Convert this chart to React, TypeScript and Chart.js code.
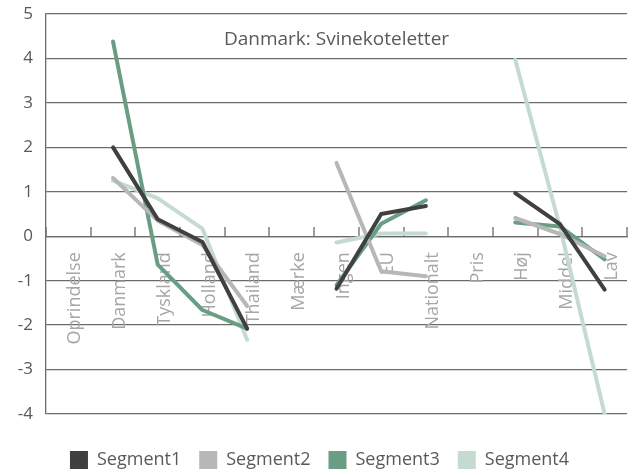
import React, { useEffect, useRef } from "react";
import { Chart, registerables } from "chart.js";

Chart.register(...registerables);

const TITLE = "Danmark: Svinekoteletter";
const categories = ["Oprindelse", "Danmark", "Tyskland", "Holland", "Thailand", "Mærke", "Ingen", "EU", "Nationalt", "Pris", "Høj", "Middel", "Lav"];
const segment1 = [null, 2.0, 0.38, -0.13, -2.08, null, -1.18, 0.5, 0.68, null, 0.97, 0.27, -1.2];
const segment2 = [null, 1.31, 0.35, -0.2, -1.57, null, 1.65, -0.79, -0.9, null, 0.41, 0.05, -0.45];
const segment3 = [null, 4.38, -0.64, -1.66, -2.08, null, -1.1, 0.28, 0.81, null, 0.31, 0.22, -0.52];
const segment4 = [null, 1.25, 0.85, 0.17, -2.33, null, -0.14, 0.06, 0.06, null, 3.97, 0.2, -4.0];
const seriesNames = ["Segment1", "Segment2", "Segment3", "Segment4"];
const seriesColors = ["#404040", "#b7b7b7", "#6a9e84", "#c5dbcf"];
const yMin = -4;
const yMax = 5;

const FONT = '"Open Sans", "DejaVu Sans", sans-serif';
const AXIS_COLOR = "#6b6b6b";

const innerTitle = {
  id: "innerTitle",
  beforeDatasetsDraw(chart: any) {
    const { ctx, chartArea } = chart;
    ctx.save();
    ctx.font = `19px ${FONT}`;
    ctx.fillStyle = "#595959";
    ctx.textAlign = "center";
    ctx.textBaseline = "middle";
    ctx.fillText(TITLE, (chartArea.left + chartArea.right) / 2, chartArea.top + 26);
    ctx.restore();
  },
};

// tick marks pointing up from the category axis, at category boundaries
const upTicks = {
  id: "upTicks",
  beforeDatasetsDraw(chart: any) {
    const { ctx } = chart;
    const xs = chart.scales.x;
    const ys = chart.scales.y;
    const y0 = Math.round(ys.getPixelForValue(0));
    ctx.save();
    ctx.strokeStyle = AXIS_COLOR;
    ctx.lineWidth = 1.3;
    ctx.beginPath();
    for (let i = 0; i <= categories.length; i++) {
      const x = Math.round(xs.getPixelForValue(i - 0.5));
      ctx.moveTo(x, y0);
      ctx.lineTo(x, y0 - 9);
    }
    ctx.stroke();
    ctx.restore();
  },
};

const noScalePadding = (s: any) => {
  s.paddingTop = 0;
  s.paddingBottom = 0;
  s.paddingLeft = 0;
  s.paddingRight = 0;
};

export default function App() {
  const ref = useRef<HTMLCanvasElement | null>(null);
  useEffect(() => {
    if (!ref.current) return;
    const values = [segment1, segment2, segment3, segment4];
    const chart = new Chart(ref.current, {
      type: "line",
      data: {
        labels: categories,
        datasets: values.map((v, i) => ({
          label: seriesNames[i],
          data: v,
          borderColor: seriesColors[i],
          backgroundColor: seriesColors[i],
          borderWidth: 4,
          pointRadius: 0,
          pointHoverRadius: 0,
          borderJoinStyle: "round" as const,
          borderCapStyle: "round" as const,
          spanGaps: false,
          tension: 0,
        })),
      },
      options: {
        animation: false,
        responsive: true,
        maintainAspectRatio: false,
        layout: { padding: { top: 14, right: 7, bottom: -4, left: 12 } },
        plugins: {
          tooltip: { enabled: false },
          legend: {
            position: "bottom",
            labels: {
              boxWidth: 18,
              boxHeight: 18,
              padding: 18,
              color: "#595959",
              font: { family: FONT, size: 18 },
              generateLabels: (c: any) =>
                Chart.defaults.plugins.legend.labels.generateLabels(c).map((l: any) => ({
                  ...l,
                  lineWidth: 0,
                  fillStyle: l.strokeStyle,
                })),
            },
          },
        },
        scales: {
          x: {
            type: "category",
            position: { y: 0 } as any,
            offset: true,
            grid: {
              offset: true,
              drawOnChartArea: false,
              drawTicks: false,
              tickLength: 0,
            },
            border: { display: true, color: AXIS_COLOR, width: 1.3 },
            ticks: {
              autoSkip: false,
              minRotation: 90,
              maxRotation: 90,
              padding: 16,
              labelOffset: 7,
              color: "#a6a6a6",
              font: { family: FONT, size: 18 },
            },
            afterFit: noScalePadding,
          },
          gap: {
            type: "linear",
            axis: "x",
            position: "bottom",
            display: true,
            grid: { display: false, drawTicks: false },
            border: { display: false },
            ticks: { display: false },
            afterFit: (s: any) => {
              noScalePadding(s);
              s.height = 19;
            },
          } as any,
          y: {
            min: yMin,
            max: yMax,
            grid: { color: AXIS_COLOR, lineWidth: 1.3, drawTicks: false },
            border: { display: true, color: AXIS_COLOR, width: 1.3 },
            ticks: {
              stepSize: 1,
              padding: 13,
              color: "#595959",
              font: { family: FONT, size: 17 },
            },
            afterFit: (s: any) => {
              noScalePadding(s);
              s.width = 34;
            },
          },
        },
      },
      plugins: [innerTitle, upTicks],
    });
    return () => chart.destroy();
  }, []);
  return (
    <div style={{ position: "fixed", left: 0, top: 0, width: 634, height: 475 }}>
      <canvas ref={ref} />
    </div>
  );
}
